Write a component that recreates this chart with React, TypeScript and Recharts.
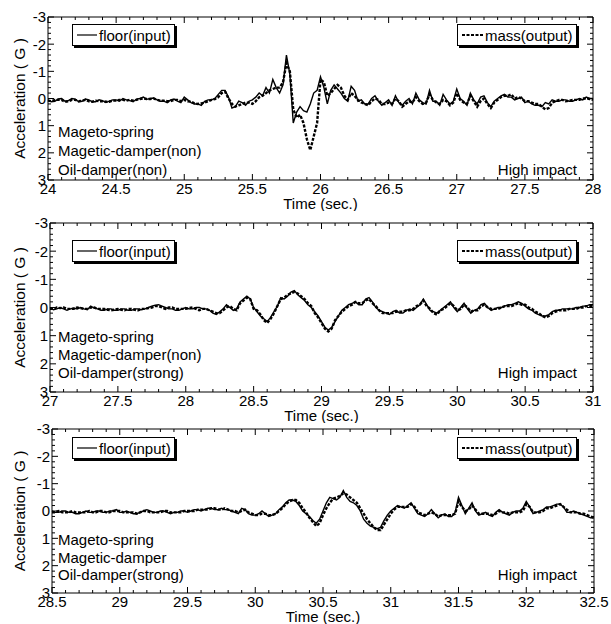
import { LineChart, Line, XAxis, YAxis, ReferenceArea } from 'recharts'

const FONT = '"Liberation Sans", Arial, sans-serif'
const STEP = 0.025

// panel 1: 24 - 28 s
const xLabels1 = [24, 24.5, 25, 25.5, 26, 26.5, 27, 27.5, 28]
const floor1 = [
  0.05, 0.12, 0.1, 0.02, 0.0, 0.1, 0.08, 0.0, 0.02, 0.12,
  0.1, 0.02, 0.05, 0.12, 0.12, 0.05, 0.08, 0.15, 0.1, 0.05,
  0.05, 0.1, 0.0, 0.05, 0.08, 0.12, 0.02, 0.0, -0.05, 0.03,
  0.0, -0.02, 0.05, 0.1, 0.1, 0.15, 0.05, 0.02, 0.1, 0.15,
  -0.05, 0.05, 0.15, 0.2, 0.2, 0.25, 0.1, 0.05, 0.05, 0.0,
  -0.15, -0.3, -0.3, -0.05, 0.35, 0.3, 0.1, 0.15, 0.25, 0.1,
  0.05, -0.05, -0.2, -0.1, -0.4, -0.2, -0.7, -0.4, -0.2, -0.5,
  -1.6, -0.9, 0.9, 0.5, 0.3, 0.45, 0.5, 0.2, -0.2, -0.3,
  -0.8, -0.4, 0.2, -0.3, -0.5, -0.35, -0.2, 0.0, 0.1, -0.45,
  -0.3, 0.1, 0.05, 0.2, 0.2, 0.0, -0.1, 0.1, 0.25, 0.15,
  0.05, 0.25, -0.1, 0.15, 0.25, 0.1, 0.0, 0.2, -0.2, 0.05,
  0.15, 0.2, -0.3, 0.1, 0.1, 0.25, -0.15, 0.05, 0.2, 0.1,
  -0.35, 0.0, 0.1, 0.25, -0.2, 0.05, 0.2, -0.05, -0.1, 0.15,
  0.3, 0.1, 0.0, -0.1, -0.15, -0.05, -0.05, 0.05, 0.0, -0.05,
  0.15, 0.1, 0.2, 0.25, 0.25, 0.3, 0.15, 0.2, 0.05, 0.1,
  0.1, 0.05, 0.05, 0.1, 0.1, 0.05, 0.0, 0.05, -0.05, 0.0,
  0.0,
]
const mass1 = [
  0.08, 0.1, 0.05, 0.05, 0.05, 0.12, 0.1, 0.05, 0.05, 0.1,
  0.08, 0.05, 0.1, 0.12, 0.08, 0.1, 0.1, 0.12, 0.12, 0.08,
  0.08, 0.05, 0.05, 0.08, 0.05, 0.08, 0.05, 0.02, 0.0, 0.02,
  0.02, 0.0, 0.05, 0.08, 0.08, 0.1, 0.1, 0.05, 0.05, 0.1,
  0.05, 0.1, 0.12, 0.18, 0.2, 0.18, 0.15, 0.1, 0.05, 0.02,
  -0.05, -0.2, -0.25, 0.0, 0.2, 0.3, 0.25, 0.2, 0.15, 0.15,
  0.2, 0.1, -0.05, -0.1, -0.2, -0.3, -0.35, -0.4, -0.4, -0.6,
  -1.3, -1.0, 0.4, 0.7, 0.6, 0.9, 1.5, 1.9, 1.4, 0.9,
  -0.7, -0.6, -0.1, -0.2, -0.35, -0.5, -0.4, -0.1, 0.05, -0.2,
  -0.1, 0.05, 0.15, 0.2, 0.25, 0.1, 0.0, 0.05, 0.2, 0.2,
  0.15, 0.2, 0.0, 0.1, 0.3, 0.2, 0.1, 0.15, -0.05, 0.1,
  0.2, 0.15, -0.15, 0.05, 0.15, 0.2, 0.05, 0.1, 0.25, 0.15,
  -0.2, 0.05, 0.15, 0.2, -0.1, 0.1, 0.3, 0.1, 0.0, 0.2,
  0.35, 0.15, 0.05, -0.05, -0.1, -0.1, -0.15, 0.0, -0.05, 0.0,
  0.1, 0.1, 0.15, 0.2, 0.2, 0.3, 0.4, 0.35, 0.15, 0.1,
  0.05, 0.05, 0.1, 0.08, 0.05, 0.05, 0.05, 0.0, 0.0, 0.02,
  0.05,
]
const notes1 = ['Mageto-spring', 'Magetic-damper(non)', 'Oil-damper(non)']

// panel 2: 27 - 31 s
const xLabels2 = [27, 27.5, 28, 28.5, 29, 29.5, 30, 30.5, 31]
const floor2 = [
  0.0, 0.08, 0.05, 0.0, 0.05, 0.1, 0.05, 0.02, 0.05, 0.0,
  0.05, 0.08, -0.05, 0.02, 0.05, 0.1, 0.1, 0.05, 0.05, 0.1,
  0.1, 0.05, 0.05, 0.1, 0.1, 0.05, 0.05, 0.08, 0.05, 0.0,
  -0.05, -0.08, -0.1, -0.05, 0.0, 0.05, 0.05, 0.1, 0.1, 0.05,
  0.0, 0.05, 0.05, 0.0, 0.0, 0.05, 0.05, 0.1, 0.2, 0.25,
  0.15, 0.05, -0.1, 0.0, 0.1, 0.05, -0.2, -0.3, -0.4, -0.3,
  0.0, 0.15, 0.3, 0.4, 0.5, 0.35, 0.15, -0.05, -0.35, -0.3,
  -0.4, -0.55, -0.6, -0.45, -0.35, -0.25, -0.1, 0.0, 0.15, 0.3,
  0.5, 0.7, 0.8, 0.7, 0.5, 0.3, 0.1, 0.0, -0.1, -0.15,
  -0.2, -0.1, -0.1, -0.3, -0.35, -0.2, 0.0, 0.1, 0.15, 0.2,
  0.25, 0.15, 0.1, 0.2, 0.2, 0.1, 0.05, 0.1, 0.0, -0.1,
  -0.3, -0.1, 0.1, 0.15, 0.2, 0.1, 0.0, -0.1, -0.2, 0.0,
  0.15, 0.0, -0.15, 0.05, 0.2, 0.1, 0.05, -0.1, -0.15, 0.0,
  0.1, 0.05, 0.0, 0.0, -0.05, -0.1, -0.1, -0.15, -0.2, -0.15,
  -0.05, 0.05, 0.1, 0.2, 0.25, 0.3, 0.3, 0.25, 0.15, 0.1,
  0.1, 0.05, 0.05, 0.05, 0.05, 0.0, 0.0, -0.05, -0.05, -0.1,
  -0.1,
]
const mass2 = [
  0.05, 0.05, 0.0, 0.02, 0.0, 0.05, 0.05, 0.05, 0.0, 0.02,
  0.05, 0.05, 0.0, 0.0, 0.05, 0.05, 0.05, 0.08, 0.1, 0.08,
  0.05, 0.08, 0.1, 0.05, 0.05, 0.08, 0.1, 0.05, 0.05, 0.02,
  0.0, -0.05, -0.05, 0.0, 0.05, 0.0, 0.0, 0.05, 0.05, 0.05,
  0.05, 0.02, 0.0, 0.05, 0.1, 0.05, 0.05, 0.1, 0.15, 0.2,
  0.2, 0.1, 0.0, -0.05, 0.05, 0.1, -0.15, -0.25, -0.35, -0.3,
  0.05, 0.1, 0.25, 0.45, 0.55, 0.4, 0.2, -0.05, -0.3, -0.35,
  -0.45, -0.5, -0.55, -0.5, -0.4, -0.3, -0.15, -0.05, 0.2, 0.35,
  0.55, 0.75, 0.85, 0.75, 0.45, 0.3, 0.15, 0.05, -0.05, -0.1,
  -0.2, -0.15, -0.15, -0.25, -0.3, -0.15, -0.05, 0.1, 0.2, 0.2,
  0.2, 0.2, 0.15, 0.15, 0.15, 0.1, 0.1, 0.05, -0.05, -0.1,
  -0.25, -0.05, 0.05, 0.2, 0.25, 0.1, 0.05, -0.05, -0.15, -0.05,
  0.1, 0.05, -0.1, 0.0, 0.15, 0.1, 0.1, -0.05, -0.1, 0.0,
  0.05, 0.05, 0.05, 0.0, -0.05, -0.05, -0.05, -0.1, -0.15, -0.1,
  -0.1, 0.0, 0.05, 0.15, 0.2, 0.3, 0.35, 0.3, 0.2, 0.15,
  0.1, 0.1, 0.1, 0.05, 0.05, 0.05, 0.0, 0.0, -0.05, -0.05,
  -0.05,
]
const notes2 = ['Mageto-spring', 'Magetic-damper(non)', 'Oil-damper(strong)']

// panel 3: 28.5 - 32.5 s
const xLabels3 = [28.5, 29, 29.5, 30, 30.5, 31, 31.5, 32, 32.5]
const floor3 = [
  0.0, 0.05, 0.05, 0.0, 0.0, 0.05, 0.05, 0.1, 0.1, 0.05,
  0.0, 0.05, 0.05, 0.0, 0.0, 0.05, 0.05, 0.0, 0.0, -0.05,
  0.05, 0.05, 0.0, 0.05, 0.1, 0.1, 0.05, 0.0, -0.05, 0.0,
  0.05, 0.05, 0.0, 0.0, 0.05, 0.1, 0.05, 0.05, 0.0, 0.0,
  0.05, 0.0, -0.05, -0.05, 0.0, -0.05, -0.1, -0.1, -0.05, -0.05,
  -0.1, -0.05, -0.05, 0.0, 0.05, 0.1, -0.1, -0.05, 0.1, 0.15,
  0.15, 0.1, 0.0, 0.1, 0.2, 0.15, 0.1, -0.05, -0.15, -0.3,
  -0.4, -0.4, -0.35, -0.2, 0.0, 0.1, 0.2, 0.35, 0.45, 0.3,
  0.0, -0.3, -0.5, -0.45, -0.4, -0.5, -0.75, -0.5, -0.35, -0.3,
  -0.2, 0.0, 0.3, 0.45, 0.55, 0.6, 0.65, 0.6, 0.35, 0.15,
  0.0, -0.1, -0.2, -0.15, -0.1, -0.2, -0.3, -0.1, 0.1, 0.15,
  0.2, 0.1, -0.05, 0.1, 0.25, 0.15, 0.1, 0.2, 0.2, 0.05,
  -0.5, -0.2, 0.1, -0.1, -0.3, 0.0, 0.15, 0.1, 0.05, 0.15,
  0.2, 0.05, -0.05, 0.05, 0.1, 0.15, 0.05, 0.0, 0.0, -0.1,
  -0.35, -0.15, 0.1, 0.05, 0.0, -0.05, -0.15, -0.15, -0.2, -0.25,
  -0.25, -0.15, 0.05, 0.05, 0.0, 0.05, 0.1, 0.15, 0.2, 0.25,
  0.25,
]
const mass3 = [
  0.05, 0.05, 0.0, 0.05, 0.05, 0.05, 0.0, 0.05, 0.05, 0.05,
  0.05, 0.0, 0.05, 0.05, 0.0, 0.0, 0.05, 0.05, 0.0, 0.0,
  0.0, 0.05, 0.05, 0.05, 0.05, 0.1, 0.05, 0.0, 0.0, 0.05,
  0.05, 0.05, 0.05, 0.0, 0.0, 0.05, 0.05, 0.05, 0.05, 0.0,
  0.0, 0.0, 0.0, -0.05, -0.05, -0.05, -0.05, -0.1, -0.1, -0.05,
  -0.05, -0.1, -0.05, 0.0, 0.0, 0.05, 0.0, -0.05, 0.05, 0.1,
  0.15, 0.15, 0.1, 0.1, 0.15, 0.15, 0.1, 0.0, -0.1, -0.25,
  -0.35, -0.4, -0.4, -0.3, -0.1, 0.05, 0.25, 0.4, 0.55, 0.45,
  0.15, -0.1, -0.3, -0.45, -0.5, -0.55, -0.65, -0.6, -0.5, -0.4,
  -0.3, -0.1, 0.1, 0.3, 0.45, 0.6, 0.7, 0.7, 0.5, 0.3,
  0.1, -0.05, -0.15, -0.15, -0.15, -0.15, -0.25, -0.15, 0.05, 0.1,
  0.15, 0.1, 0.05, 0.1, 0.2, 0.15, 0.15, 0.15, 0.15, 0.1,
  -0.35, -0.15, 0.0, -0.05, -0.2, -0.05, 0.1, 0.1, 0.1, 0.1,
  0.15, 0.1, 0.0, 0.05, 0.05, 0.1, 0.05, 0.05, 0.05, 0.0,
  -0.25, -0.15, 0.05, 0.05, 0.05, 0.0, -0.1, -0.1, -0.15, -0.2,
  -0.25, -0.15, -0.05, 0.05, 0.05, 0.05, 0.1, 0.1, 0.15, 0.2,
  0.25,
]
const notes3 = ['Mageto-spring', 'Magetic-damper', 'Oil-damper(strong)']

const yLabels = [-3, -2, -1, 0, 1, 2, 3]

const r3 = (v: number) => Math.round(v * 1000) / 1000

interface PanelProps {
  xLabels: number[]
  floor: number[]
  mass: number[]
  notes: string[]
  box: { left: number; right: number; top: number; bottom: number }
  legendTop: number
  noteY: number[]
}

const PAD_TOP = 15
const AXIS_H = 31

function Panel({ xLabels, floor, mass, notes, box, legendTop, noteY }: PanelProps) {
  const start = xLabels[0]
  const end = xLabels[xLabels.length - 1]
  const plotH = box.bottom - box.top
  const chartTop = box.top - PAD_TOP
  const data = floor.map((f, i) => ({ t: r3(start + i * STEP), floor: f, mass: mass[i] }))
  const xTicks: number[] = []
  for (let i = 0; i <= Math.round((end - start) * 10); i++) xTicks.push(r3(start + i * 0.1))
  const yTicks: number[] = []
  for (let i = 0; i <= 30; i++) yTicks.push(r3(-3 + i * 0.2))
  const isMajorX = (v: number) => xLabels.some((m) => Math.abs(m - v) < 1e-6)
  const isMajorY = (v: number) => yLabels.some((m) => Math.abs(m - v) < 1e-6)
  const localBottom = PAD_TOP + plotH

  const xTick = (props: any) => {
    const { x, payload } = props
    const major = isMajorX(payload.value)
    const len = major ? 6 : 3
    return (
      <g>
        <line x1={x} x2={x} y1={localBottom} y2={localBottom - len} stroke="#000" />
        <line x1={x} x2={x} y1={PAD_TOP} y2={PAD_TOP + len} stroke="#000" />
        {major && (
          <text x={x} y={localBottom + 14} textAnchor="middle" fontSize={15} fill="#000" fontFamily={FONT}>
            {payload.value}
          </text>
        )}
      </g>
    )
  }

  const yTick = (props: any) => {
    const { y, payload } = props
    const major = isMajorY(payload.value)
    const len = major ? 6 : 3
    return (
      <g>
        <line x1={box.left} x2={box.left + len} y1={y} y2={y} stroke="#000" />
        <line x1={box.right} x2={box.right - len} y1={y} y2={y} stroke="#000" />
        {major && (
          <text x={box.left - 2} y={y} dy="0.36em" textAnchor="end" fontSize={15} fill="#000" fontFamily={FONT}>
            {payload.value}
          </text>
        )}
      </g>
    )
  }

  const midY = PAD_TOP + plotH / 2
  const yLabel = () => (
    <text
      x={19}
      y={midY}
      transform={`rotate(-90 19 ${midY})`}
      textAnchor="middle"
      dominantBaseline="central"
      fontSize={15.5}
      fill="#000"
      fontFamily={FONT}
    >
      Acceleration ( G )
    </text>
  )

  return (
    <div style={{ position: 'absolute', left: 0, top: chartTop }}>
      <LineChart
        width={611}
        height={PAD_TOP + plotH + AXIS_H}
        data={data}
        margin={{ top: PAD_TOP, right: 611 - box.right, bottom: 0, left: 0 }}
      >
        <XAxis
          dataKey="t"
          type="number"
          domain={[start, end]}
          ticks={xTicks}
          interval={0}
          tick={xTick}
          tickLine={false}
          axisLine={false}
          height={AXIS_H}
          label={{ value: 'Time (sec.)', position: 'insideBottom', offset: 2, fill: '#000', fontSize: 15, fontFamily: FONT }}
        />
        <YAxis
          type="number"
          domain={[-3, 3]}
          reversed
          ticks={yTicks}
          interval={0}
          tick={yTick}
          tickLine={false}
          axisLine={false}
          width={box.left}
          label={{ content: yLabel }}
        />
        <ReferenceArea x1={start} x2={end} y1={-3} y2={3} fill="none" stroke="#000" strokeWidth={1} />
        <Line dataKey="floor" type="linear" stroke="#000" strokeWidth={1.4} dot={false} isAnimationActive={false} />
        <Line
          dataKey="mass"
          type="linear"
          stroke="#000"
          strokeWidth={2.4}
          strokeDasharray="3 1.5"
          dot={false}
          isAnimationActive={false}
        />
      </LineChart>

      {/* legend boxes */}
      <div style={{ ...legendBox, left: 72, top: legendTop - chartTop }}>
        <svg width={20} height={10} style={{ marginRight: 2 }}>
          <line x1={0} x2={20} y1={5} y2={5} stroke="#000" strokeWidth={1.2} />
        </svg>
        floor(input)
      </div>
      <div style={{ ...legendBox, left: 457, top: legendTop - chartTop }}>
        <svg width={22} height={10} style={{ marginRight: 1 }}>
          <line x1={0} x2={22} y1={5} y2={5} stroke="#000" strokeWidth={2.2} strokeDasharray="3 1.5" />
        </svg>
        mass(output)
      </div>

      {notes.map((n, i) => (
        <div key={n} style={{ ...noteStyle, left: 58, top: noteY[i] - 9 - chartTop }}>
          {n}
        </div>
      ))}
      <div style={{ ...noteStyle, right: 611 - 577, top: noteY[2] - 9 - chartTop }}>High impact</div>
    </div>
  )
}

const legendBox: React.CSSProperties = {
  position: 'absolute',
  display: 'flex',
  alignItems: 'center',
  height: 20,
  padding: '0 3px 0 4px',
  border: '1px solid #000',
  boxShadow: '2px 2px 0 #000',
  background: '#fff',
  fontFamily: FONT,
  fontSize: 15,
  color: '#000',
  whiteSpace: 'nowrap',
}

const noteStyle: React.CSSProperties = {
  position: 'absolute',
  fontFamily: FONT,
  fontSize: 15,
  lineHeight: '18px',
  color: '#000',
  whiteSpace: 'nowrap',
}

export default function App() {
  return (
    <div style={{ position: 'absolute', left: 0, top: 0, width: 611, height: 624, background: '#fff', overflow: 'hidden' }}>
      <Panel
        xLabels={xLabels1}
        floor={floor1}
        mass={mass1}
        notes={notes1}
        box={{ left: 48, right: 593, top: 17, bottom: 180 }}
        legendTop={24}
        noteY={[132, 151, 170]}
      />
      <Panel
        xLabels={xLabels2}
        floor={floor2}
        mass={mass2}
        notes={notes2}
        box={{ left: 50, right: 593, top: 223, bottom: 392 }}
        legendTop={240}
        noteY={[337, 355, 373]}
      />
      <Panel
        xLabels={xLabels3}
        floor={floor3}
        mass={mass3}
        notes={notes3}
        box={{ left: 52, right: 594, top: 429, bottom: 593 }}
        legendTop={437}
        noteY={[540, 558, 575]}
      />
    </div>
  )
}
